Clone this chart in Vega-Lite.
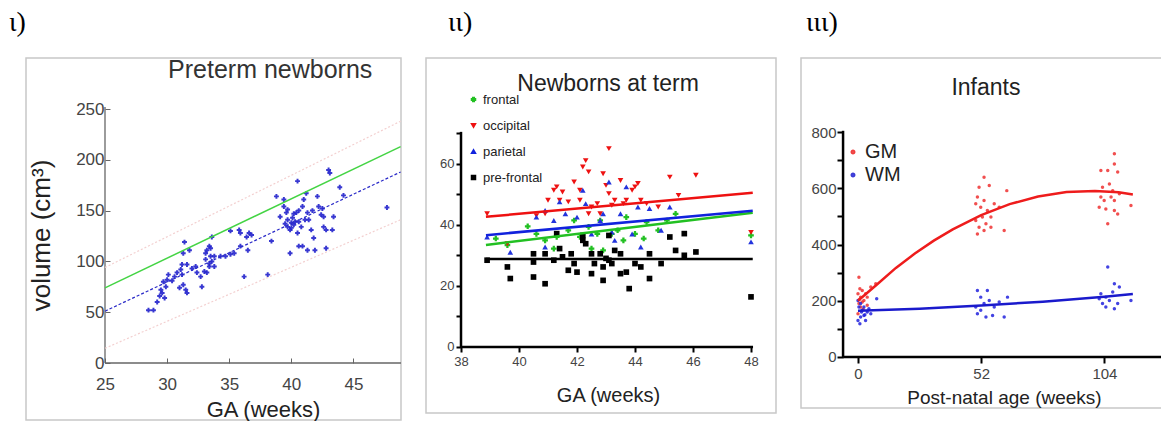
{
"$schema": "https://vega.github.io/schema/vega-lite/v6.json",
"background": "white",
"padding": {"left": 8, "top": 8, "right": 0, "bottom": 0},
"spacing": 25,
"bounds": "flush",
"resolve": {"scale": {"x": "independent", "y": "independent", "color": "independent", "shape": "independent", "stroke": "independent"}, "legend": {"color": "independent", "shape": "independent", "stroke": "independent"}},
"config": {
  "view": {"stroke": "#c8c8c8", "strokeWidth": 1.5},
  "font": "Liberation Sans",
  "axis": {"domain": false, "grid": false, "labelFont": "Liberation Sans", "titleFont": "Liberation Sans", "titleFontWeight": "normal", "labelColor": "#444", "titleColor": "#222"},
  "legend": {"labelFont": "Liberation Sans", "labelColor": "#222"},
  "title": {"anchor": "start", "frame": "group", "font": "Liberation Serif", "fontSize": 28, "fontWeight": "normal", "color": "#000", "baseline": "alphabetic", "offset": 21}
},
"hconcat": [
{
  "width": 375, "height": 362,
  "title": {"text": "ι)", "dx": -17},
  "layer": [
    {"data": {"values": [
      {"ga":28.5,"vol":52},{"ga":28.9,"vol":52},{"ga":29.2,"vol":60},{"ga":29.4,"vol":66},{"ga":29.6,"vol":69},{"ga":29.8,"vol":64},{"ga":29.5,"vol":72},{"ga":29.9,"vol":75},{"ga":29.7,"vol":80},{"ga":30.0,"vol":82},
      {"ga":30.4,"vol":81},{"ga":30.1,"vol":87},{"ga":30.6,"vol":85},{"ga":30.8,"vol":89},{"ga":31.1,"vol":92},{"ga":31.2,"vol":87},{"ga":31.3,"vol":77},{"ga":31.0,"vol":74},{"ga":31.5,"vol":72},{"ga":31.6,"vol":69},
      {"ga":31.2,"vol":97},{"ga":31.6,"vol":97},{"ga":31.3,"vol":108},{"ga":31.4,"vol":119},{"ga":31.8,"vol":111},{"ga":32.0,"vol":93},{"ga":32.3,"vol":95},{"ga":32.4,"vol":89},{"ga":32.7,"vol":85},{"ga":32.8,"vol":75},
      {"ga":33.0,"vol":90},{"ga":33.1,"vol":102},{"ga":33.1,"vol":108},{"ga":33.2,"vol":111},{"ga":33.4,"vol":115},{"ga":33.5,"vol":113},{"ga":33.5,"vol":105},{"ga":33.4,"vol":98},{"ga":33.6,"vol":100},{"ga":33.4,"vol":95},
      {"ga":33.2,"vol":89},{"ga":33.8,"vol":95},{"ga":33.8,"vol":105},{"ga":33.6,"vol":124},{"ga":34.3,"vol":105},{"ga":34.7,"vol":105},{"ga":35.1,"vol":107},{"ga":35.4,"vol":108},{"ga":35.1,"vol":130},{"ga":35.8,"vol":131},
      {"ga":35.9,"vol":128},{"ga":36.2,"vol":85},{"ga":36.5,"vol":111},{"ga":36.4,"vol":124},{"ga":36.6,"vol":128},{"ga":36.8,"vol":126},{"ga":35.9,"vol":115},{"ga":38.1,"vol":87},{"ga":38.4,"vol":120},{"ga":38.8,"vol":164},
      {"ga":39.1,"vol":144},{"ga":39.4,"vol":154},{"ga":39.4,"vol":161},{"ga":39.6,"vol":148},{"ga":39.7,"vol":141},{"ga":39.7,"vol":134},{"ga":39.9,"vol":108},{"ga":39.9,"vol":131},{"ga":40.0,"vol":138},{"ga":40.1,"vol":143},
      {"ga":40.2,"vol":136},{"ga":40.4,"vol":148},{"ga":40.5,"vol":179},{"ga":40.5,"vol":128},{"ga":40.6,"vol":115},{"ga":40.6,"vol":139},{"ga":40.8,"vol":134},{"ga":40.9,"vol":154},{"ga":41.0,"vol":161},{"ga":41.2,"vol":167},
      {"ga":41.3,"vol":148},{"ga":40.9,"vol":115},{"ga":41.3,"vol":111},{"ga":41.4,"vol":141},{"ga":41.6,"vol":131},{"ga":41.8,"vol":123},{"ga":41.9,"vol":111},{"ga":42.1,"vol":164},{"ga":42.2,"vol":154},{"ga":42.4,"vol":146},
      {"ga":42.5,"vol":152},{"ga":42.6,"vol":144},{"ga":42.6,"vol":134},{"ga":42.8,"vol":131},{"ga":42.8,"vol":113},{"ga":43.0,"vol":190},{"ga":43.1,"vol":187},{"ga":43.3,"vol":131},{"ga":43.4,"vol":144},{"ga":43.9,"vol":173},
      {"ga":44.2,"vol":165},{"ga":47.7,"vol":153},{"ga":39.7,"vol":151},{"ga":40.2,"vol":147},{"ga":40.6,"vol":150},{"ga":41.1,"vol":141},{"ga":41.7,"vol":150},{"ga":40.3,"vol":139},{"ga":40.0,"vol":133},{"ga":39.5,"vol":137}
     ]},
     "mark": {"type": "point", "shape": "cross", "filled": true, "color": "#2222cc", "size": 24, "opacity": 0.9},
     "encoding": {
      "x": {"field": "ga", "type": "quantitative", "scale": {"domain": [18.64, 48.83], "nice": false, "zero": false},
        "axis": {"values": [25, 30, 35, 40, 45], "offset": -57, "title": "GA (weeks)", "titleX": 237, "titleY": 53, "titleBaseline": "alphabetic", "titleFontSize": 22, "labelFontSize": 17, "tickSize": -5, "tickColor": "#666", "labelPadding": 18}},
      "y": {"field": "vol", "type": "quantitative", "scale": {"domain": [-56.1, 300.2], "nice": false, "zero": false},
        "axis": {"values": [0, 50, 100, 150, 200, 250], "offset": -79, "title": "volume (cm³)", "titleX": -64, "titleY": 177, "titleBaseline": "middle", "titleFontSize": 26, "labelFontSize": 17, "tickSize": -5, "tickColor": "#666", "labelPadding": 6}}
     }},
    {"data": {"values": [{"ga": 25, "ga2": 48.83, "vol": 0, "vol2": 0}, {"ga": 25, "ga2": 25, "vol": 0, "vol2": 252}]},
     "mark": {"type": "rule", "color": "#666", "strokeWidth": 1.3},
     "encoding": {
      "x": {"field": "ga", "type": "quantitative", "scale": {"domain": [18.64, 48.83], "nice": false, "zero": false}},
      "y": {"field": "vol", "type": "quantitative", "scale": {"domain": [-56.1, 300.2], "nice": false, "zero": false}},
      "x2": {"field": "ga2"}, "y2": {"field": "vol2"}}},
    {"data": {"values": [{"s": "upper", "ga": 25, "vol": 94}, {"s": "upper", "ga": 48.8, "vol": 238}, {"s": "lower", "ga": 25, "vol": 14.5}, {"s": "lower", "ga": 48.8, "vol": 141}]},
     "mark": {"type": "line", "color": "#f3d0d0", "strokeWidth": 1.2, "strokeDash": [2, 2]},
     "encoding": {
      "x": {"field": "ga", "type": "quantitative", "scale": {"domain": [18.64, 48.83], "nice": false, "zero": false}},
      "y": {"field": "vol", "type": "quantitative", "scale": {"domain": [-56.1, 300.2], "nice": false, "zero": false}},
      "detail": {"field": "s"}}},
    {"data": {"values": [{"ga": 25, "vol": 74}, {"ga": 48.8, "vol": 213}]},
     "mark": {"type": "line", "color": "#44d444", "strokeWidth": 1.5},
     "encoding": {
      "x": {"field": "ga", "type": "quantitative", "scale": {"domain": [18.64, 48.83], "nice": false, "zero": false}},
      "y": {"field": "vol", "type": "quantitative", "scale": {"domain": [-56.1, 300.2], "nice": false, "zero": false}}}},
    {"data": {"values": [{"ga": 25, "vol": 51}, {"ga": 48.8, "vol": 188}]},
     "mark": {"type": "line", "color": "#2a2ac8", "strokeWidth": 1.2, "strokeDash": [3, 2]},
     "encoding": {
      "x": {"field": "ga", "type": "quantitative", "scale": {"domain": [18.64, 48.83], "nice": false, "zero": false}},
      "y": {"field": "vol", "type": "quantitative", "scale": {"domain": [-56.1, 300.2], "nice": false, "zero": false}}}},
    {"data": {"values": [{"t": "Preterm newborns"}]},
     "mark": {"type": "text", "fontSize": 25, "color": "#333", "baseline": "middle", "align": "center"},
     "encoding": {"x": {"datum": 38.3, "type": "quantitative"}, "y": {"datum": 288, "type": "quantitative"}, "text": {"field": "t", "type": "nominal"}}}
  ]
},
{
  "width": 350, "height": 355,
  "title": {"text": "ιι)", "dx": 22},
  "layer": [
    {"data": {"values": [
      {"region":"frontal","ga":39.6,"vol":33.3},{"region":"frontal","ga":40.6,"vol":37},{"region":"frontal","ga":40.9,"vol":34.9},{"region":"frontal","ga":41.3,"vol":36},{"region":"frontal","ga":41.7,"vol":38.2},{"region":"frontal","ga":41.9,"vol":41.4},{"region":"frontal","ga":42.1,"vol":36},{"region":"frontal","ga":42.4,"vol":39.3},{"region":"frontal","ga":42.5,"vol":32.2},{"region":"frontal","ga":42.7,"vol":37},{"region":"frontal","ga":42.9,"vol":31.6},{"region":"frontal","ga":43.2,"vol":37},{"region":"frontal","ga":43.4,"vol":38.2},{"region":"frontal","ga":43.6,"vol":34.9},{"region":"frontal","ga":43.7,"vol":42.5},{"region":"frontal","ga":44.0,"vol":37},{"region":"frontal","ga":44.3,"vol":35.5},{"region":"frontal","ga":44.4,"vol":40.9},{"region":"frontal","ga":44.8,"vol":38.2},{"region":"frontal","ga":45.1,"vol":41.4},{"region":"frontal","ga":45.4,"vol":43.6},{"region":"frontal","ga":48.0,"vol":36.5},{"region":"frontal","ga":42.8,"vol":41.4},{"region":"frontal","ga":41.2,"vol":32.2},{"region":"frontal","ga":39.2,"vol":35.5},{"region":"frontal","ga":40.3,"vol":39.5},
      {"region":"occipital","ga":38.9,"vol":43.6},{"region":"occipital","ga":39.6,"vol":33.8},{"region":"occipital","ga":40.6,"vol":43},{"region":"occipital","ga":41.0,"vol":48},{"region":"occipital","ga":41.2,"vol":51.3},{"region":"occipital","ga":41.3,"vol":52.4},{"region":"occipital","ga":41.4,"vol":48},{"region":"occipital","ga":41.5,"vol":50.7},{"region":"occipital","ga":41.7,"vol":47.5},{"region":"occipital","ga":41.9,"vol":54},{"region":"occipital","ga":42.1,"vol":48},{"region":"occipital","ga":42.1,"vol":51.3},{"region":"occipital","ga":42.2,"vol":58.9},{"region":"occipital","ga":42.3,"vol":61},{"region":"occipital","ga":42.4,"vol":57.3},{"region":"occipital","ga":42.4,"vol":43.6},{"region":"occipital","ga":42.5,"vol":45.8},{"region":"occipital","ga":42.7,"vol":46.9},{"region":"occipital","ga":42.9,"vol":56.7},{"region":"occipital","ga":43.0,"vol":52.9},{"region":"occipital","ga":43.1,"vol":64.9},{"region":"occipital","ga":43.1,"vol":50.2},{"region":"occipital","ga":43.2,"vol":46.4},{"region":"occipital","ga":43.3,"vol":48},{"region":"occipital","ga":43.5,"vol":54.5},{"region":"occipital","ga":43.6,"vol":46.9},{"region":"occipital","ga":43.7,"vol":48},{"region":"occipital","ga":43.9,"vol":51.3},{"region":"occipital","ga":44.0,"vol":52.4},{"region":"occipital","ga":44.1,"vol":53.5},{"region":"occipital","ga":44.2,"vol":48},{"region":"occipital","ga":44.4,"vol":46.9},{"region":"occipital","ga":44.8,"vol":45.8},{"region":"occipital","ga":45.2,"vol":55.6},{"region":"occipital","ga":45.5,"vol":49.6},{"region":"occipital","ga":46.1,"vol":56.2},{"region":"occipital","ga":48.0,"vol":37.5},{"region":"occipital","ga":40.9,"vol":43.6},{"region":"occipital","ga":42.8,"vol":43.6},
      {"region":"parietal","ga":38.9,"vol":36},{"region":"parietal","ga":40.6,"vol":42.5},{"region":"parietal","ga":40.9,"vol":44.7},{"region":"parietal","ga":41.2,"vol":41.4},{"region":"parietal","ga":41.4,"vol":47.5},{"region":"parietal","ga":41.6,"vol":43.6},{"region":"parietal","ga":42.0,"vol":42.5},{"region":"parietal","ga":42.2,"vol":51.3},{"region":"parietal","ga":42.3,"vol":46.9},{"region":"parietal","ga":42.5,"vol":37},{"region":"parietal","ga":42.8,"vol":41.4},{"region":"parietal","ga":42.9,"vol":43.6},{"region":"parietal","ga":43.1,"vol":54},{"region":"parietal","ga":43.3,"vol":34.9},{"region":"parietal","ga":43.5,"vol":43.6},{"region":"parietal","ga":43.7,"vol":52.4},{"region":"parietal","ga":43.9,"vol":37},{"region":"parietal","ga":44.1,"vol":45.8},{"region":"parietal","ga":44.2,"vol":32.7},{"region":"parietal","ga":44.5,"vol":45.3},{"region":"parietal","ga":44.9,"vol":38.2},{"region":"parietal","ga":45.2,"vol":45.8},{"region":"parietal","ga":48.0,"vol":34.4},{"region":"parietal","ga":39.7,"vol":31},{"region":"parietal","ga":40.9,"vol":32.7},{"region":"parietal","ga":43.2,"vol":37.6},
      {"region":"pre-frontal","ga":38.9,"vol":28.4},{"region":"pre-frontal","ga":39.6,"vol":26.2},{"region":"pre-frontal","ga":39.7,"vol":22.4},{"region":"pre-frontal","ga":40.5,"vol":30.5},{"region":"pre-frontal","ga":40.5,"vol":22.9},{"region":"pre-frontal","ga":40.5,"vol":27.8},{"region":"pre-frontal","ga":40.9,"vol":20.7},{"region":"pre-frontal","ga":40.9,"vol":30.5},{"region":"pre-frontal","ga":41.2,"vol":28.4},{"region":"pre-frontal","ga":41.3,"vol":37.1},{"region":"pre-frontal","ga":41.4,"vol":32.2},{"region":"pre-frontal","ga":41.5,"vol":29.5},{"region":"pre-frontal","ga":41.7,"vol":25.1},{"region":"pre-frontal","ga":41.8,"vol":30.5},{"region":"pre-frontal","ga":41.9,"vol":27.3},{"region":"pre-frontal","ga":42.0,"vol":24.5},{"region":"pre-frontal","ga":42.2,"vol":34.9},{"region":"pre-frontal","ga":42.3,"vol":33.8},{"region":"pre-frontal","ga":42.5,"vol":24},{"region":"pre-frontal","ga":42.6,"vol":27.3},{"region":"pre-frontal","ga":42.8,"vol":30.5},{"region":"pre-frontal","ga":42.9,"vol":21.8},{"region":"pre-frontal","ga":42.9,"vol":26.2},{"region":"pre-frontal","ga":43.1,"vol":28.4},{"region":"pre-frontal","ga":43.1,"vol":36.5},{"region":"pre-frontal","ga":43.2,"vol":27.3},{"region":"pre-frontal","ga":43.3,"vol":31.6},{"region":"pre-frontal","ga":43.5,"vol":24},{"region":"pre-frontal","ga":43.7,"vol":24.5},{"region":"pre-frontal","ga":43.8,"vol":19.1},{"region":"pre-frontal","ga":44.0,"vol":27.3},{"region":"pre-frontal","ga":44.2,"vol":26.2},{"region":"pre-frontal","ga":44.5,"vol":30.5},{"region":"pre-frontal","ga":44.5,"vol":22.4},{"region":"pre-frontal","ga":44.9,"vol":27.3},{"region":"pre-frontal","ga":45.2,"vol":36},{"region":"pre-frontal","ga":45.4,"vol":31.6},{"region":"pre-frontal","ga":45.7,"vol":37.1},{"region":"pre-frontal","ga":45.7,"vol":30},{"region":"pre-frontal","ga":46.1,"vol":31.1},{"region":"pre-frontal","ga":48.0,"vol":16.4},{"region":"pre-frontal","ga":42.5,"vol":30.5},{"region":"pre-frontal","ga":43.5,"vol":30.5},{"region":"pre-frontal","ga":42.2,"vol":36.5},{"region":"pre-frontal","ga":43.0,"vol":29.0}
     ]},
     "mark": {"type": "point", "filled": true, "opacity": 1},
     "encoding": {
       "x": {"field": "ga", "type": "quantitative", "scale": {"domain": [36.793, 48.862], "nice": false, "zero": false},
         "axis": {"values": [38, 40, 42, 44, 46, 48], "offset": -66, "title": "GA (weeks)", "titleX": 182, "titleY": 48, "titleBaseline": "middle", "titleFontSize": 20, "labelFontSize": 13, "tickSize": 5, "tickWidth": 2, "tickColor": "#000", "labelPadding": 3}},
       "y": {"field": "vol", "type": "quantitative", "scale": {"domain": [-21.6, 94.57], "nice": false, "zero": false},
         "axis": {"values": [0, 10, 20, 30, 40, 50, 60, 70], "labelExpr": "datum.value % 20 === 0 ? datum.label : ''", "offset": -35, "title": null, "labelFontSize": 13, "tickSize": 5, "tickWidth": 2, "tickColor": "#000", "labelPadding": 2}},
       "color": {"field": "region", "type": "nominal", "scale": {"domain": ["frontal", "occipital", "parietal", "pre-frontal"], "range": ["#22c022", "#ee1111", "#2233dd", "#000000"]},
         "legend": {"orient": "none", "legendX": 41, "legendY": 35, "title": null, "labelFontSize": 13, "symbolSize": 16, "rowPadding": 12, "labelOffset": 3}},
       "shape": {"field": "region", "type": "nominal", "scale": {"domain": ["frontal", "occipital", "parietal", "pre-frontal"], "range": ["cross", "triangle-down", "triangle-up", "square"]}},
       "size": {"value": 32}
     }},
    {"data": {"values": [{"ga": 38, "ga2": 48.07, "vol": 0, "vol2": 0}, {"ga": 38, "ga2": 38, "vol": 0, "vol2": 70.4}]},
     "mark": {"type": "rule", "color": "#000", "strokeWidth": 2.5},
     "encoding": {
      "x": {"field": "ga", "type": "quantitative", "scale": {"domain": [36.793, 48.862], "nice": false, "zero": false}},
      "y": {"field": "vol", "type": "quantitative", "scale": {"domain": [-21.6, 94.57], "nice": false, "zero": false}},
      "x2": {"field": "ga2"}, "y2": {"field": "vol2"}}},
    {"data": {"values": [
      {"line":"frontal","ga":38.86,"vol":33.4},{"line":"frontal","ga":48.06,"vol":43.9},
      {"line":"occipital","ga":38.86,"vol":42.6},{"line":"occipital","ga":48.06,"vol":50.5},
      {"line":"parietal","ga":38.86,"vol":36.6},{"line":"parietal","ga":48.06,"vol":44.6},
      {"line":"pre-frontal","ga":38.86,"vol":28.8},{"line":"pre-frontal","ga":48.06,"vol":28.8}
     ]},
     "mark": {"type": "line", "strokeWidth": 2.5},
     "encoding": {
      "x": {"field": "ga", "type": "quantitative", "scale": {"domain": [36.793, 48.862], "nice": false, "zero": false}},
      "y": {"field": "vol", "type": "quantitative", "scale": {"domain": [-21.6, 94.57], "nice": false, "zero": false}},
      "detail": {"field": "line"}, "stroke": {"field": "line", "type": "nominal", "scale": {"domain": ["frontal", "occipital", "parietal", "pre-frontal"], "range": ["#22c022", "#ee1111", "#1122dd", "#000000"]}, "legend": null}}},
    {"data": {"values": [{"t": "Newborns at term"}]},
     "mark": {"type": "text", "fontSize": 23, "color": "#222", "baseline": "middle", "align": "center"},
     "encoding": {"x": {"datum": 43.07, "type": "quantitative"}, "y": {"datum": 86, "type": "quantitative"}, "text": {"field": "t", "type": "nominal"}}}
  ]
},
{
  "width": 361, "height": 350,
  "title": {"text": "ιιι)", "dx": 5},
  "layer": [
    {"data": {"values": [
      {"tissue":"GM","age":0.4,"vol":284},{"tissue":"GM","age":0,"vol":225},{"tissue":"GM","age":1.1,"vol":213},{"tissue":"GM","age":1.8,"vol":237},{"tissue":"GM","age":0.4,"vol":190},{"tissue":"GM","age":2.5,"vol":201},{"tissue":"GM","age":1.1,"vol":178},{"tissue":"GM","age":3.2,"vol":225},{"tissue":"GM","age":3.9,"vol":213},{"tissue":"GM","age":0,"vol":154},{"tissue":"GM","age":5.4,"vol":249},{"tissue":"GM","age":1.8,"vol":196},{"tissue":"GM","age":3.9,"vol":184},{"tissue":"GM","age":7.5,"vol":261},{"tissue":"GM","age":0.8,"vol":243},{"tissue":"GM","age":2.2,"vol":170},{"tissue":"GM","age":0.6,"vol":205},
      {"tissue":"GM","age":50.4,"vol":569},{"tissue":"GM","age":51.1,"vol":604},{"tissue":"GM","age":53.2,"vol":640},{"tissue":"GM","age":55.4,"vol":610},{"tissue":"GM","age":62.8,"vol":592},{"tissue":"GM","age":49.7,"vol":545},{"tissue":"GM","age":51.8,"vol":533},{"tissue":"GM","age":53.2,"vol":557},{"tissue":"GM","age":54.6,"vol":521},{"tissue":"GM","age":56.1,"vol":498},{"tissue":"GM","age":59.6,"vol":533},{"tissue":"GM","age":49.7,"vol":486},{"tissue":"GM","age":51.1,"vol":462},{"tissue":"GM","age":50.4,"vol":438},{"tissue":"GM","age":53.2,"vol":450},{"tissue":"GM","age":56.1,"vol":462},{"tissue":"GM","age":61.7,"vol":450},{"tissue":"GM","age":52.5,"vol":498},{"tissue":"GM","age":57.5,"vol":545},{"tissue":"GM","age":54.0,"vol":474},
      {"tissue":"GM","age":108.2,"vol":723},{"tissue":"GM","age":108.2,"vol":687},{"tissue":"GM","age":102.5,"vol":664},{"tissue":"GM","age":105.4,"vol":664},{"tissue":"GM","age":109.6,"vol":658},{"tissue":"GM","age":103.2,"vol":604},{"tissue":"GM","age":106.1,"vol":616},{"tissue":"GM","age":107.5,"vol":592},{"tissue":"GM","age":102.5,"vol":569},{"tissue":"GM","age":103.9,"vol":557},{"tissue":"GM","age":106.8,"vol":569},{"tissue":"GM","age":101.8,"vol":533},{"tissue":"GM","age":104.6,"vol":527},{"tissue":"GM","age":108.2,"vol":521},{"tissue":"GM","age":109.6,"vol":509},{"tissue":"GM","age":105.4,"vol":474},{"tissue":"GM","age":115.2,"vol":539},{"tissue":"GM","age":110.3,"vol":581},{"tissue":"GM","age":108.2,"vol":557},
      {"tissue":"WM","age":0,"vol":130},{"tissue":"WM","age":1.1,"vol":142},{"tissue":"WM","age":1.8,"vol":166},{"tissue":"WM","age":0.4,"vol":178},{"tissue":"WM","age":2.5,"vol":148},{"tissue":"WM","age":3.9,"vol":160},{"tissue":"WM","age":1.1,"vol":190},{"tissue":"WM","age":3.2,"vol":130},{"tissue":"WM","age":5.4,"vol":154},{"tissue":"WM","age":0,"vol":201},{"tissue":"WM","age":4.6,"vol":172},{"tissue":"WM","age":7.9,"vol":207},{"tissue":"WM","age":2.5,"vol":178},{"tissue":"WM","age":0.8,"vol":118},{"tissue":"WM","age":2.9,"vol":150},{"tissue":"WM","age":1.5,"vol":160},
      {"tissue":"WM","age":50.4,"vol":237},{"tissue":"WM","age":54.6,"vol":237},{"tissue":"WM","age":51.8,"vol":213},{"tissue":"WM","age":55.4,"vol":201},{"tissue":"WM","age":63.1,"vol":213},{"tissue":"WM","age":49.7,"vol":178},{"tissue":"WM","age":53.2,"vol":190},{"tissue":"WM","age":57.5,"vol":178},{"tissue":"WM","age":50.4,"vol":154},{"tissue":"WM","age":54.0,"vol":142},{"tissue":"WM","age":56.8,"vol":148},{"tissue":"WM","age":61.7,"vol":142},{"tissue":"WM","age":51.8,"vol":166},{"tissue":"WM","age":59.6,"vol":196},
      {"tissue":"WM","age":105.4,"vol":320},{"tissue":"WM","age":108.2,"vol":261},{"tissue":"WM","age":110.3,"vol":249},{"tissue":"WM","age":102.5,"vol":225},{"tissue":"WM","age":104.6,"vol":213},{"tissue":"WM","age":107.5,"vol":231},{"tissue":"WM","age":103.2,"vol":190},{"tissue":"WM","age":106.1,"vol":201},{"tissue":"WM","age":109.6,"vol":190},{"tissue":"WM","age":115.2,"vol":201},{"tissue":"WM","age":104.6,"vol":178},{"tissue":"WM","age":108.2,"vol":172},{"tissue":"WM","age":101.8,"vol":207}
     ]},
     "mark": {"type": "point", "filled": true, "shape": "circle", "size": 12, "opacity": 0.85},
     "encoding": {
       "x": {"field": "age", "type": "quantitative", "scale": {"domain": [-24.05, 128.3], "nice": false, "zero": false},
         "axis": {"values": [0, 52, 104], "offset": -51, "title": "Post-natal age (weeks)", "titleX": 203, "titleY": 40, "titleBaseline": "middle", "titleFontSize": 19, "labelFontSize": 15, "tickSize": 6, "tickWidth": 2, "tickColor": "#000", "labelPadding": 3}},
       "y": {"field": "vol", "type": "quantitative", "scale": {"domain": [-181.5, 1064], "nice": false, "zero": false},
         "axis": {"values": [0, 100, 200, 300, 400, 500, 600, 700, 800], "labelExpr": "datum.value % 200 === 0 ? datum.label : ''", "offset": -42, "title": null, "labelFontSize": 15, "tickSize": 6, "tickWidth": 2, "tickColor": "#000", "labelPadding": 1}},
       "color": {"field": "tissue", "type": "nominal", "scale": {"domain": ["GM", "WM"], "range": ["#ee3030", "#2222dd"]},
         "legend": {"orient": "none", "legendX": 42, "legendY": 84, "title": null, "labelFontSize": 20, "symbolSize": 12, "rowPadding": 3, "labelOffset": 2}}
     }},
    {"data": {"values": [{"age": -6.3, "age2": 128.3, "vol": 0, "vol2": 0}, {"age": -6.3, "age2": -6.3, "vol": 0, "vol2": 805}]},
     "mark": {"type": "rule", "color": "#000", "strokeWidth": 2.5},
     "encoding": {
      "x": {"field": "age", "type": "quantitative", "scale": {"domain": [-24.05, 128.3], "nice": false, "zero": false}},
      "y": {"field": "vol", "type": "quantitative", "scale": {"domain": [-181.5, 1064], "nice": false, "zero": false}},
      "x2": {"field": "age2"}, "y2": {"field": "vol2"}}},
    {"data": {"values": [
      {"tissue":"GM","age":0,"vol":200},{"tissue":"GM","age":8,"vol":258},{"tissue":"GM","age":16,"vol":317},{"tissue":"GM","age":24,"vol":368},{"tissue":"GM","age":32,"vol":414},{"tissue":"GM","age":40,"vol":454},{"tissue":"GM","age":52,"vol":505},{"tissue":"GM","age":64,"vol":544},{"tissue":"GM","age":76,"vol":571},{"tissue":"GM","age":88,"vol":587},{"tissue":"GM","age":100,"vol":591},{"tissue":"GM","age":110,"vol":586},{"tissue":"GM","age":116,"vol":578},
      {"tissue":"WM","age":0,"vol":165},{"tissue":"WM","age":26,"vol":172},{"tissue":"WM","age":52,"vol":183},{"tissue":"WM","age":78,"vol":197},{"tissue":"WM","age":104,"vol":214},{"tissue":"WM","age":116,"vol":224}
     ]},
     "mark": {"type": "line", "strokeWidth": 2.5},
     "encoding": {
      "x": {"field": "age", "type": "quantitative", "scale": {"domain": [-24.05, 128.3], "nice": false, "zero": false}},
      "y": {"field": "vol", "type": "quantitative", "scale": {"domain": [-181.5, 1064], "nice": false, "zero": false}},
      "detail": {"field": "tissue"}, "stroke": {"field": "tissue", "type": "nominal", "scale": {"domain": ["GM", "WM"], "range": ["#ee1c1c", "#1a1acc"]}, "legend": null}}},
    {"data": {"values": [{"t": "Infants"}]},
     "mark": {"type": "text", "fontSize": 23, "color": "#222", "baseline": "middle", "align": "center"},
     "encoding": {"x": {"datum": 54, "type": "quantitative"}, "y": {"datum": 957, "type": "quantitative"}, "text": {"field": "t", "type": "nominal"}}}
  ]
}
]
}
